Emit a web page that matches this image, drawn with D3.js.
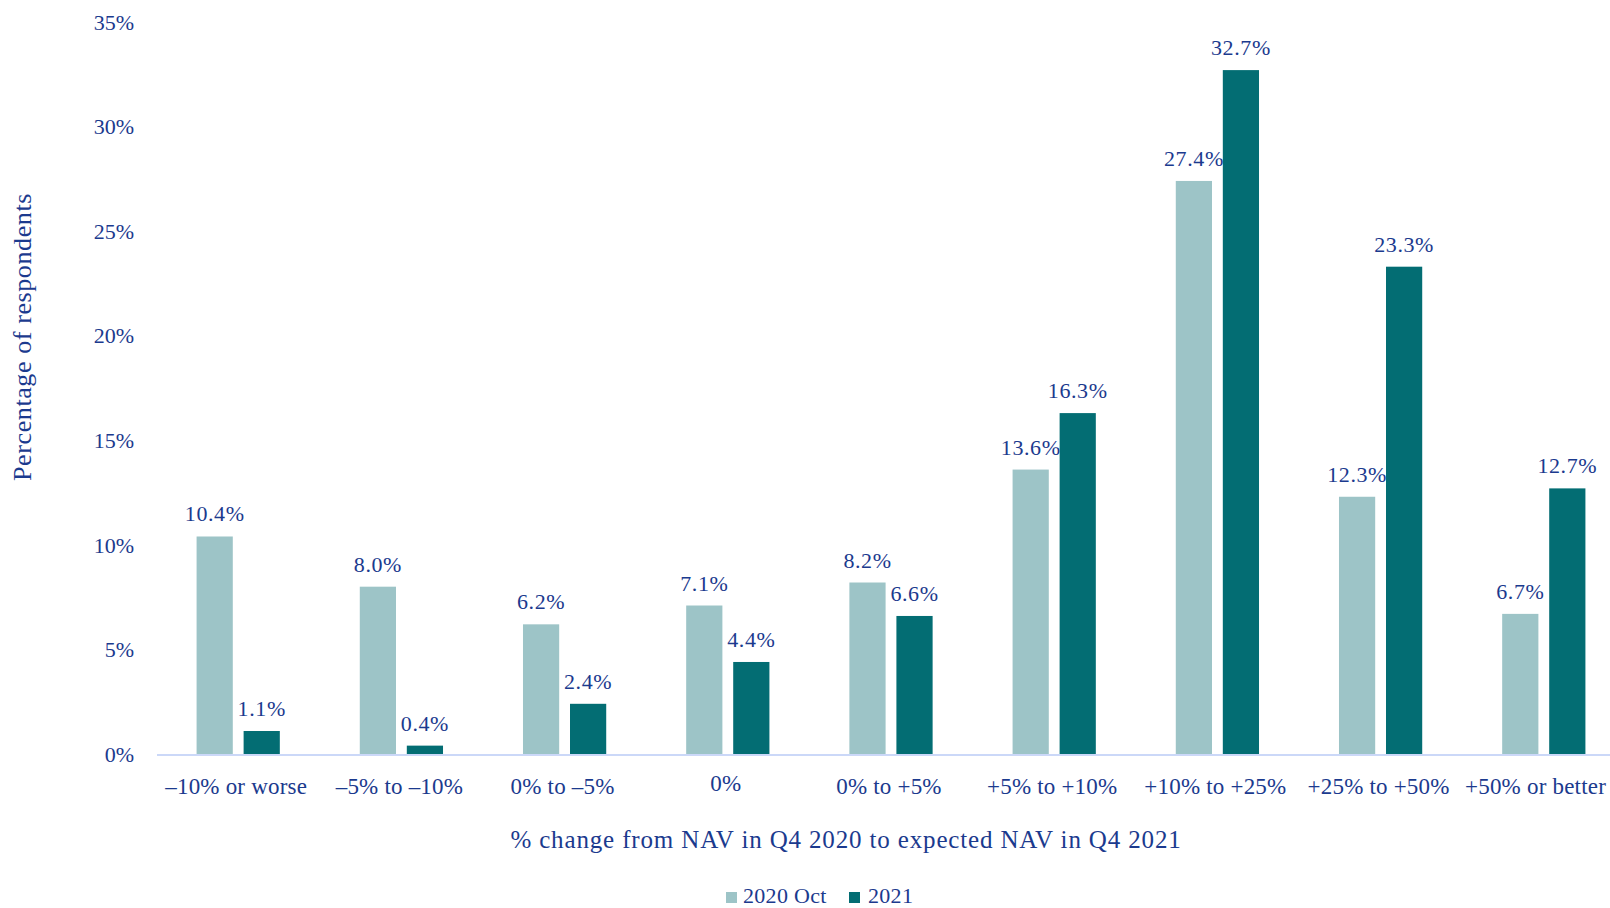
<!doctype html>
<html lang="en">
<head>
  <meta charset="utf-8">
  <title>NAV change expectations</title>
  <style>
    body { margin: 0; background: #fff; }
    svg text { font-family: "Times New Roman", "Liberation Serif", serif; fill: #1b3a8e; }
  </style>
</head>
<body>
  <div id="chart"></div>
  <script src="https://d3js.org/d3.v7.min.js"></script>
  <script>
    // Data ------------------------------------------------------------------
    const categories = [
      "\u201310% or worse", "\u20135% to \u201310%", "0% to \u20135%", "0%",
      "0% to +5%", "+5% to +10%", "+10% to +25%", "+25% to +50%", "+50% or better"
    ];
    const seriesNames = ["2020 Oct", "2021"];
    const values2020Oct = [10.4, 8.0, 6.2, 7.1, 8.2, 13.6, 27.4, 12.3, 6.7];
    const values2021 = [1.1, 0.4, 2.4, 4.4, 6.6, 16.3, 32.7, 23.3, 12.7];
    const yTicks = [0, 5, 10, 15, 20, 25, 30, 35];

    const colors = { "2020 Oct": "#9dc4c7", "2021": "#036d73" };

    const rows = categories.map((c, i) => ({
      category: c,
      "2020 Oct": values2020Oct[i],
      "2021": values2021[i]
    }));

    // Layout ----------------------------------------------------------------
    const width = 1610;
    const height = 908;

    const svg = d3.select("#chart")
      .append("svg")
      .attr("width", width)
      .attr("height", height);

    const x0 = d3.scaleBand()
      .domain(categories)
      .range([156.6, 1625.4])
      .paddingInner(0.49)
      .paddingOuter(0.245);

    const x1 = d3.scaleBand()
      .domain(seriesNames)
      .range([0, x0.bandwidth()])
      .paddingInner(0.23);

    const y = d3.scaleLinear()
      .domain([0, 35])
      .range([754, 22]);

    // Y axis labels -----------------------------------------------------------
    svg.append("g")
      .selectAll("text")
      .data(yTicks)
      .join("text")
      .attr("x", 134)
      .attr("y", d => y(d))
      .attr("dy", "0.35em")
      .attr("text-anchor", "end")
      .style("font-size", "22px")
      .text(d => d + "%");

    // Bars ------------------------------------------------------------------
    const groups = svg.append("g")
      .selectAll("g")
      .data(rows)
      .join("g")
      .attr("transform", d => `translate(${x0(d.category)},0)`);

    groups.selectAll("rect")
      .data(d => seriesNames.map(s => ({ key: s, value: d[s] })))
      .join("rect")
      .attr("x", d => x1(d.key))
      .attr("y", d => y(d.value))
      .attr("width", x1.bandwidth())
      .attr("height", d => y(0) - y(d.value))
      .attr("fill", d => colors[d.key]);

    groups.selectAll("text")
      .data(d => seriesNames.map(s => ({ key: s, value: d[s] })))
      .join("text")
      .attr("x", d => x1(d.key) + x1.bandwidth() / 2)
      .attr("y", d => y(d.value) - 15)
      .attr("text-anchor", "middle")
      .style("font-size", "22px")
      .style("letter-spacing", "0.6px")
      .text(d => d3.format(".1f")(d.value) + "%");

    // X axis ----------------------------------------------------------------
    svg.append("line")
      .attr("x1", 157)
      .attr("x2", width)
      .attr("y1", y(0) + 1)
      .attr("y2", y(0) + 1)
      .attr("stroke", "#cbd8f8")
      .attr("stroke-width", 2);

    svg.append("g")
      .selectAll("text")
      .data(categories)
      .join("text")
      .attr("y", d => d === "0%" ? 791 : 794)
      .attr("text-anchor", "middle")
      .style("font-size", "23px")
      .style("letter-spacing", "0.2px")
      .text(d => d)
      .attr("x", function(d) {
        // keep the last label inside the frame
        const w = this.getComputedTextLength();
        const cx = x0(d) + x0.bandwidth() / 2 - 2;
        return Math.min(cx, width - 4 - w / 2);
      });

    // Axis titles -----------------------------------------------------------
    svg.append("text")
      .attr("x", 846)
      .attr("y", 848)
      .attr("text-anchor", "middle")
      .style("font-size", "25px")
      .style("letter-spacing", "0.85px")
      .text("% change from NAV in Q4 2020 to expected NAV in Q4 2021");

    svg.append("text")
      .attr("transform", "translate(31,337) rotate(-90)")
      .attr("text-anchor", "middle")
      .style("font-size", "26px")
      .style("letter-spacing", "0.6px")
      .text("Percentage of respondents");

    // Legend ----------------------------------------------------------------
    const legendX = [726, 849];
    const legend = svg.append("g")
      .selectAll("g")
      .data(seriesNames)
      .join("g")
      .attr("transform", (d, i) => `translate(${legendX[i]},892)`);

    legend.append("rect")
      .attr("width", 11)
      .attr("height", 11)
      .attr("fill", d => colors[d]);

    legend.append("text")
      .attr("x", (d, i) => i === 0 ? 17 : 19)
      .attr("y", 11)
      .style("font-size", "22px")
      .style("letter-spacing", "0.3px")
      .text(d => d);
  </script>
</body>
</html>
